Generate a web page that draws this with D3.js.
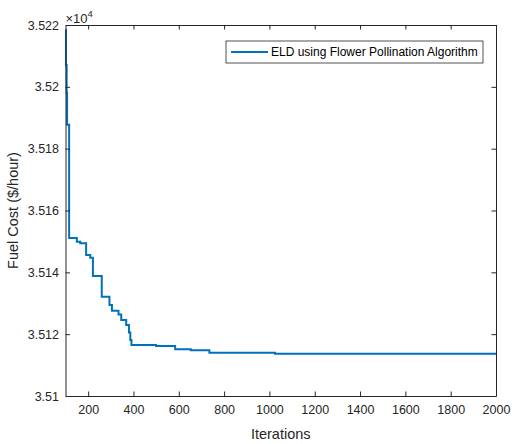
<!DOCTYPE html>
<html>
<head>
<meta charset="utf-8">
<script src="https://cdn.jsdelivr.net/npm/d3@7"></script>
<style>
  body { margin: 0; background: #fff; }
  svg { display: block; font-family: "Liberation Sans", Arial, sans-serif; }
</style>
</head>
<body>
<div id="chart"></div>
<script>
// Convergence data (step changes): iteration where a new best is found, and its fuel cost
const iterations = [100, 102, 105, 107, 116, 150, 165, 191, 209, 221, 260, 294, 305, 334, 346, 368, 380, 386, 391, 500, 584, 653, 735, 1025, 2000];
const fuelCost = [35218.4, 35207.1, 35198, 35187.7, 35151.1, 35149.9, 35149.4, 35145.6, 35144.7, 35138.8, 35132.1, 35129.4, 35127.6, 35126.4, 35124.6, 35123.0, 35120.5, 35118.1, 35116.5, 35116.2, 35115.1, 35114.8, 35114.0, 35113.7, 35113.7];

const xTicks = [200, 400, 600, 800, 1000, 1200, 1400, 1600, 1800, 2000];
const yTicks = [35100, 35120, 35140, 35160, 35180, 35200, 35220];
const legendLabel = 'ELD using Flower Pollination Algorithm';

const width = 512;
const height = 444;
const margin = {top: 25, right: 16, bottom: 48, left: 65.5};
const axisColor = '#262626';

const data = iterations.map((d, i) => ({iter: d, cost: fuelCost[i]}));

const xScale = d3.scaleLinear()
  .domain([100, 2000])
  .range([margin.left, width - margin.right]);

const yScale = d3.scaleLinear()
  .domain([35100, 35220])
  .range([height - margin.bottom, margin.top]);

const svg = d3.select('#chart')
  .append('svg')
  .attr('width', width)
  .attr('height', height);

// the curve
const line = d3.line()
  .x(d => xScale(d.iter))
  .y(d => yScale(d.cost))
  .curve(d3.curveStepAfter);

svg.append('path')
  .datum(data)
  .attr('d', line)
  .attr('fill', 'none')
  .attr('stroke', '#0072BD')
  .attr('stroke-width', 2);

// axes (MATLAB style, ticks inside, box on)
const fmt = v => String(+(v / 1e4).toFixed(3));

const xAxis = d3.axisBottom(xScale).tickValues(xTicks).tickFormat(d3.format('d'))
  .tickSizeInner(-4.5).tickSizeOuter(0).tickPadding(9);
const gx = svg.append('g')
  .attr('transform', `translate(0, ${height - margin.bottom})`)
  .call(xAxis);

const yAxis = d3.axisLeft(yScale).tickValues(yTicks).tickFormat(fmt)
  .tickSizeInner(-4.5).tickSizeOuter(0).tickPadding(6.5);
const gy = svg.append('g')
  .attr('transform', `translate(${margin.left}, 0)`)
  .call(yAxis);

const xTop = d3.axisTop(xScale).tickValues(xTicks).tickFormat('').tickSizeInner(-4.5).tickSizeOuter(0);
const gxt = svg.append('g')
  .attr('transform', `translate(0, ${margin.top})`)
  .call(xTop);

const yRight = d3.axisRight(yScale).tickValues(yTicks).tickFormat('').tickSizeInner(-4.5).tickSizeOuter(0);
const gyr = svg.append('g')
  .attr('transform', `translate(${width - margin.right}, 0)`)
  .call(yRight);

[gx, gy, gxt, gyr].forEach(g => {
  g.select('.domain').attr('stroke', axisColor);
  g.selectAll('.tick line').attr('stroke', axisColor);
  g.selectAll('.tick text')
    .attr('fill', axisColor)
    .style('font-size', '12.5px')
    .style('font-family', '"Liberation Sans", Arial, sans-serif');
});

// axis labels
svg.append('text')
  .attr('x', (margin.left + width - margin.right) / 2)
  .attr('y', 439)
  .attr('text-anchor', 'middle')
  .attr('fill', axisColor)
  .style('font-size', '14.5px')
  .text('Iterations');

svg.append('text')
  .attr('transform', `translate(18, ${(margin.top + height - margin.bottom) / 2}) rotate(-90)`)
  .attr('text-anchor', 'middle')
  .attr('fill', axisColor)
  .style('font-size', '14.5px')
  .text('Fuel Cost ($/hour)');

// exponent label
const expo = svg.append('text')
  .attr('x', margin.left)
  .attr('y', 22.5)
  .attr('fill', axisColor)
  .style('font-size', '13px');
expo.append('tspan').text('\u00d710');
expo.append('tspan').attr('dy', -6).style('font-size', '9.5px').text('4');

// legend
const lg = svg.append('g');
lg.append('rect')
  .attr('x', 226)
  .attr('y', 41)
  .attr('width', 257)
  .attr('height', 22)
  .attr('fill', '#fff')
  .attr('stroke', axisColor)
  .attr('stroke-width', 0.8);
lg.append('line')
  .attr('x1', 231).attr('x2', 268)
  .attr('y1', 52).attr('y2', 52)
  .attr('stroke', '#0072BD')
  .attr('stroke-width', 2);
lg.append('text')
  .attr('x', 271)
  .attr('y', 56)
  .attr('fill', '#000')
  .style('font-size', '12px')
  .text(legendLabel);
</script>
</body>
</html>
